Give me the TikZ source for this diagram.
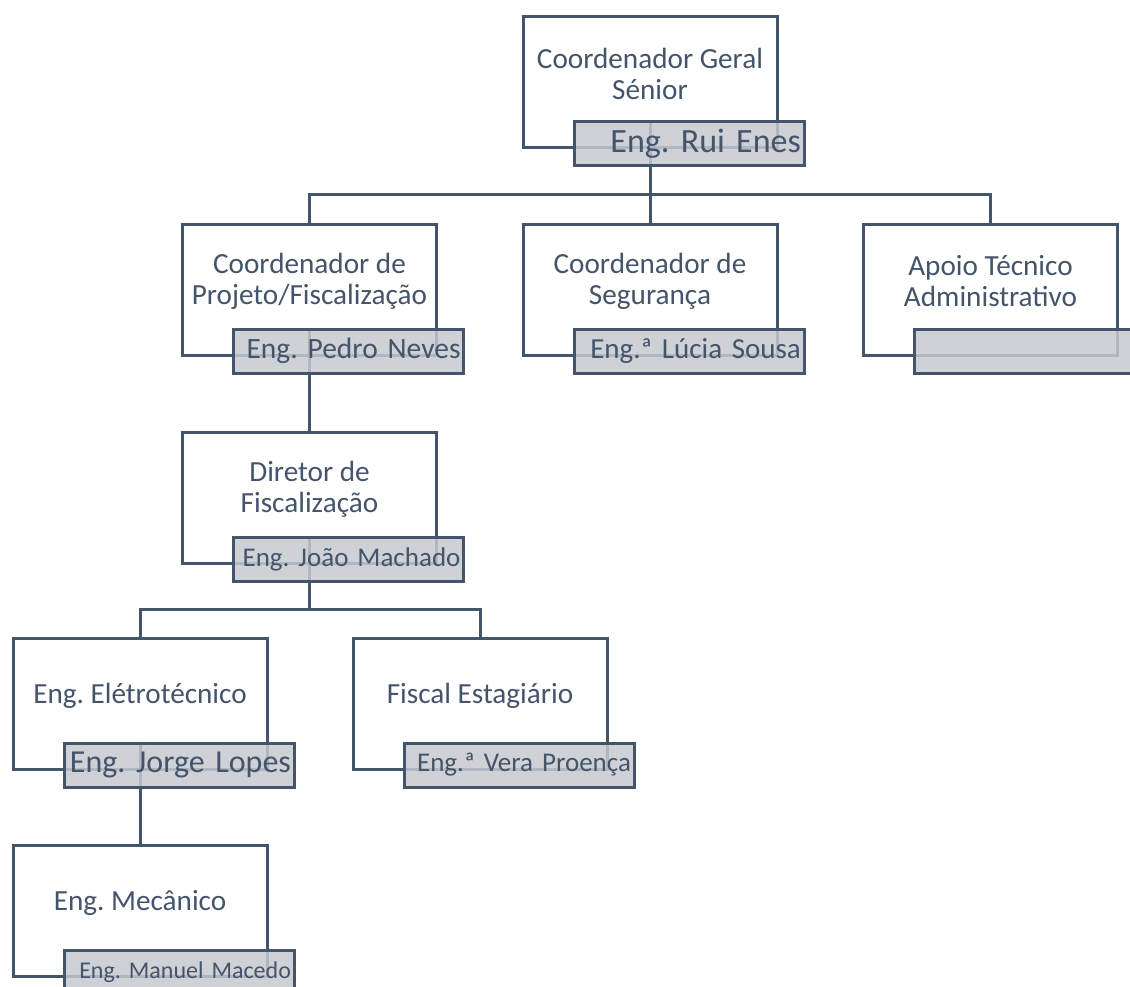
\documentclass[tikz,border=0pt]{standalone}
\usepackage{fontspec}
\setmainfont{Carlito}
\usepackage{xcolor}
\usetikzlibrary{calc, positioning}
\definecolor{slate}{HTML}{44546A}
\definecolor{namefill}{HTML}{C6C9CF}
\pgfdeclarelayer{background}
\pgfsetlayers{background,main}
\frenchspacing

\begin{document}
\begin{tikzpicture}[x=1pt, y=-1pt,
      font=\fontsize{29.2}{31}\selectfont, text=slate,
      role/.style={draw=slate, line width=3pt, fill=white,
                  minimum width=254pt, minimum height=131pt, inner sep=0pt},
      title/.style={align=center, yshift=8pt, inner sep=0pt},
      namebar/.style={draw=slate, line width=3pt, fill=namefill, fill opacity=0.85,
                  text opacity=1, anchor=north west, minimum height=44pt,
                  text width=224pt, inner xsep=3pt, inner ysep=0pt, align=right},
      link/.style={draw=slate, line width=3pt}]
    \useasboundingbox (0,0) rectangle (1130,986);
    \clip (0,0) rectangle (1130,986);
    \begin{pgfonlayer}{background}
    \node[role] (top) at (650,82) {};
    \node[role] (proj) at (309.5,289.5) {};
    \node[role] (seg) at (650,289.5) {};
    \node[role] (apoio) at (990.5,289.5) {};
    \node[role] (dir) at (309.5,497.5) {};
    \node[role] (eletro) at (140,703.5) {};
    \node[role] (fiscal) at (480,703.5) {};
    \node[role] (mec) at (140,911) {};
    \end{pgfonlayer}
    \node[title] (topt) at (top) {Coordenador Geral\\Sénior};
    \node[title] (projt) at (proj) {Coordenador de\\Projeto/Fiscalização};
    \node[title] (segt) at (seg) {Coordenador de\\Segurança};
    \node[title] (apoiot) at (apoio) {Apoio Técnico\\Administrativo};
    \node[title] (dirt) at (dir) {Diretor de\\Fiscalização};
    \node[title] (eletrot) at (eletro) {Eng. Elétrotécnico};
    \node[title] (fiscalt) at (fiscal) {Fiscal Estagiário};
    \node[title] (mect) at (mec) {Eng. Mecânico};
    \node[namebar, font=\fontsize{34}{38}\selectfont] (topn) at ($(top.south west)+(51,-29)$) {Eng. Rui Enes};
    \node[namebar, font=\fontsize{29.5}{34}\selectfont] (projn) at ($(proj.south west)+(51,-29)$) {Eng. Pedro Neves};
    \node[namebar, font=\fontsize{29}{34}\selectfont] (segn) at ($(seg.south west)+(51,-29)$) {Eng.ª Lúcia Sousa};
    \node[namebar] (apoion) at ($(apoio.south west)+(51,-29)$) {};
    \node[namebar, font=\fontsize{27}{32}\selectfont] (dirn) at ($(dir.south west)+(51,-29)$) {Eng. João Machado};
    \node[namebar, font=\fontsize{32}{36}\selectfont] (eletron) at ($(eletro.south west)+(51,-29)$) {Eng. Jorge Lopes};
    \node[namebar, font=\fontsize{27}{32}\selectfont] (fiscaln) at ($(fiscal.south west)+(51,-29)$) {Eng.ª Vera Proença};
    \node[namebar, font=\fontsize{24}{28}\selectfont] (mecn) at ($(mec.south west)+(51,-29)$) {Eng. Manuel Macedo};
    \coordinate (j1) at ($(topn.south)!.5!(proj.north)$);
    \coordinate (j2) at ($(dirn.south)!.5!(eletro.north)$);
    \begin{pgfonlayer}{background}
    \draw[link] (top.center |- topn.north) |- (j1 -| proj.north) -- (proj.north);
    \draw[link] (top.center |- topn.north) -- (seg.north);
    \draw[link] (top.center |- topn.north) |- (j1 -| apoio.north) -- (apoio.north);
    \draw[link] (proj.center |- projn.north) -- (dir.north);
    \draw[link] (dir.center |- dirn.north) |- (j2 -| eletro.north) -- (eletro.north);
    \draw[link] (dir.center |- dirn.north) |- (j2 -| fiscal.north) -- (fiscal.north);
    \draw[link] (eletro.center |- eletron.north) -- (mec.north);
    \end{pgfonlayer}
  \end{tikzpicture}
\end{document}
